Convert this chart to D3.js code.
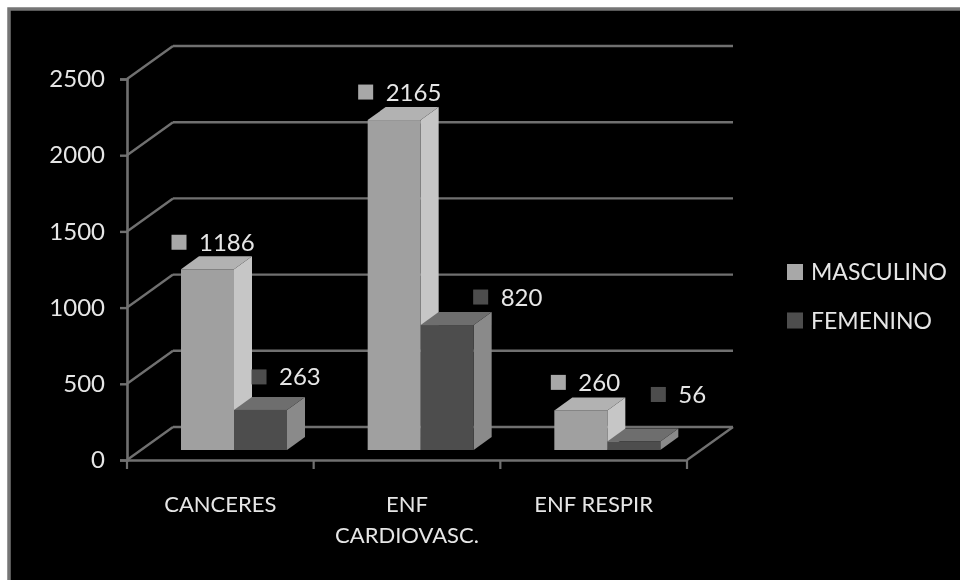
<!DOCTYPE html>
<html><head><meta charset="utf-8">
<script src="https://cdn.jsdelivr.net/npm/d3@7"></script>
<style>html,body{margin:0;padding:0;background:#fff}svg{display:block}text{font-family:Lato,sans-serif;fill:#e6e6e6}</style>
</head><body><svg id="c" width="960" height="580"></svg>
<script>
const categories = ["CANCERES", "ENF CARDIOVASC.", "ENF RESPIR"];
const seriesNames = ["MASCULINO", "FEMENINO"];
const masculino = [1186, 2165, 260];
const femenino = [263, 820, 56];
const yTicks = [0, 500, 1000, 1500, 2000, 2500];

const colors = {
  MASCULINO: {front:"#a0a0a0", side:"#c6c6c6", top:"#b2b2b2", key:"#a8a8a8"},
  FEMENINO:  {front:"#4e4e4e", side:"#8a8a8a", top:"#6e6e6e", key:"#4e4e4e"}
};
const axisColor = "#707070";
const wall = {dx:46, dy:-33};   // depth of the chart's back wall
const barDepth = {dx:18, dy:-13};
const barLift = -10;            // bars stand this far behind the front axis
// data label nudges relative to each bar's front-left/top corner: [marker centre dx, dy]
const labelNudge = [
  [[-2,-27],[25,-33],],
  [[-2,-28],[60,-28]],
  [[4,-28],[51,-47]]
];

const svg = d3.select("#c");
const defs = svg.append("defs");
defs.append("filter").attr("id","soft").attr("x","-5%").attr("y","-5%").attr("width","110%").attr("height","110%")
  .append("feGaussianBlur").attr("stdDeviation",0.6);

svg.append("rect").attr("x",9).attr("y",9).attr("width",960).attr("height",580)
  .attr("fill","#000").attr("stroke","#757575").attr("stroke-width",3.5);

const g = svg.append("g").attr("filter","url(#soft)");
const x = d3.scaleBand().domain(categories).range([127,687]);
const x1 = d3.scaleBand().domain(seriesNames).range([54,160]);
const y = d3.scaleLinear().domain([0,2500]).range([460,79]);

// walls and gridlines
const line = (a,b,c,d,w=2.4)=>g.append("line").attr("x1",a).attr("y1",b).attr("x2",c).attr("y2",d)
  .attr("stroke",axisColor).attr("stroke-width",w);
yTicks.forEach(t=>{
  line(127,y(t),127+wall.dx,y(t)+wall.dy);
  line(127+wall.dx,y(t)+wall.dy,687+wall.dx,y(t)+wall.dy);
});
line(687,460,687+wall.dx,460+wall.dy);

// axes
const yAxis = g.append("g").attr("transform","translate(127,0)")
  .call(d3.axisLeft(y).tickValues(yTicks).tickSize(7).tickPadding(15).tickFormat(d3.format("d")));
const xAxis = g.append("g").attr("transform","translate(0,460)")
  .call(d3.axisBottom(x).tickSize(0).tickFormat(""));
x.domain().concat(["end"]).forEach((c,i)=>{
  const px = i<3 ? x(c) : x(categories[2])+x.bandwidth();
  line(px,460,px,469,2.2);
});
[yAxis,xAxis].forEach(a=>{
  a.selectAll("path.domain").attr("stroke",axisColor).attr("stroke-width",2.6);
  a.selectAll(".tick line").attr("stroke",axisColor).attr("stroke-width",2.4);
});
yAxis.selectAll("text").attr("font-size",24).style("font-family","Lato,sans-serif").attr("fill","#e6e6e6");

// category labels
const catLines = {"CANCERES":["CANCERES"],"ENF CARDIOVASC.":["ENF","CARDIOVASC."],"ENF RESPIR":["ENF RESPIR"]};
categories.forEach(c=>{
  catLines[c].forEach((t,i)=>{
    g.append("text").attr("x",x(c)+x.bandwidth()/2).attr("y",512+i*31)
      .attr("text-anchor","middle").attr("font-size",22).text(t);
  });
});

// bars
const all = [masculino,femenino];
categories.forEach((c,ci)=>{
  seriesNames.forEach((s,si)=>{
    const v = all[si][ci];
    const L = x(c)+x1(s), W = x1.bandwidth(), B = y(0)+barLift, T = y(v)+barLift;
    const col = colors[s], d = barDepth;
    const poly = (pts,f)=>g.append("polygon").attr("points",pts.join(" ")).attr("fill",f);
    poly([[L+W,T],[L+W+d.dx,T+d.dy],[L+W+d.dx,B+d.dy],[L+W,B]],col.side);
    poly([[L,T],[L+d.dx,T+d.dy],[L+W+d.dx,T+d.dy],[L+W,T]],col.top);
    g.append("rect").attr("x",L).attr("y",T).attr("width",W).attr("height",B-T).attr("fill",col.front);
  });
});

// data labels with legend keys
categories.forEach((c,ci)=>{
  seriesNames.forEach((s,si)=>{
    const v = all[si][ci];
    const [nx,ny] = labelNudge[ci][si];
    const mx = x(c)+x1(s)+nx, my = y(v)+barLift+ny;
    g.append("rect").attr("x",mx-7.5).attr("y",my-7.5).attr("width",15).attr("height",15).attr("fill",colors[s].key);
    g.append("text").attr("x",mx+20).attr("y",my+8.5).attr("font-size",24).text(v);
  });
});

// legend
seriesNames.forEach((s,i)=>{
  const cy = 272+i*48.5;
  g.append("rect").attr("x",787).attr("y",cy-8).attr("width",16).attr("height",16).attr("fill",colors[s].key);
  g.append("text").attr("x",811).attr("y",cy+8).attr("font-size",23).text(s);
});
</script></body></html>
